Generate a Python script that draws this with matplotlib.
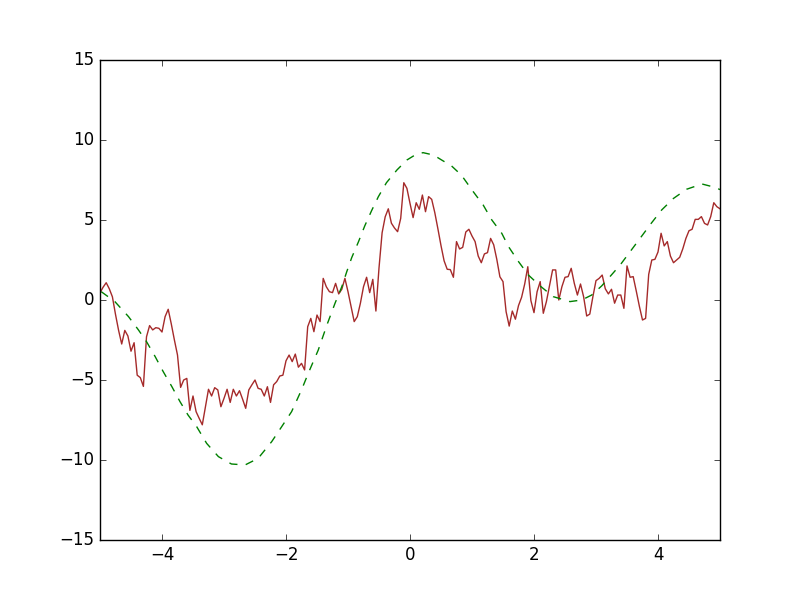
import numpy as np
import matplotlib
matplotlib.use("Agg")
import matplotlib.pyplot as plt

plt.style.use("classic")

noisy_y = [
    0.45, 0.8, 1.08, 0.7, 0.2, -0.9, -1.9, -2.75, -1.9, -2.25,
    -3.2, -2.67, -4.7, -4.85, -5.4, -2.3, -1.6, -1.87, -1.73, -1.77,
    -2.0, -1.04, -0.58, -1.5, -2.5, -3.44, -5.46, -5.0, -4.9, -6.9,
    -6.0, -6.98, -7.4, -7.8, -6.67, -5.58, -6.0, -5.48, -5.62, -6.67,
    -6.15, -5.58, -6.4, -5.58, -6.0, -5.67, -6.2, -6.77, -5.62, -5.3,
    -5.0, -5.52, -5.58, -6.0, -5.42, -6.4, -5.3, -5.1, -4.75, -4.7,
    -3.8, -3.44, -3.85, -3.38, -4.2, -3.96, -4.37, -1.67, -1.15, -1.98,
    -0.94, -1.35, 1.35, 0.83, 0.52, 0.46, 1.04, 0.38, 0.67, 1.35,
    0.52, -0.4, -1.35, -1.04, -0.2, 0.83, 1.42, 0.46, 1.29, -0.69,
    2.0, 4.2, 5.2, 5.7, 4.8, 4.5, 4.27, 5.1, 7.33, 6.98,
    6.04, 5.15, 6.08, 5.67, 6.56, 5.52, 6.46, 6.29, 5.46, 4.45,
    3.4, 2.45, 1.92, 1.9, 1.42, 3.65, 3.19, 3.29, 4.25, 4.42,
    4.0, 3.65, 2.75, 2.33, 2.88, 2.96, 3.85, 3.45, 2.54, 1.45,
    1.15, -0.73, -1.63, -0.69, -1.2, -0.35, 0.17, 1.0, 2.08, -0.04,
    -0.79, 0.52, 1.15, -0.83, -0.1, 0.9, 1.88, 1.88, 0.0, 0.83,
    1.42, 1.46, 1.98, 1.04, 0.31, 1.0, 0.21, -1.0, -0.88, 0.21,
    1.21, 1.35, 1.56, 0.7, 0.38, 0.67, -0.2, 0.31, 0.31, -0.52,
    2.13, 1.42, 1.46, 0.55, -0.4, -1.25, -1.15, 1.6, 2.5, 2.54,
    3.0, 4.17, 3.38, 3.65, 2.75, 2.33, 2.5, 2.67, 3.2, 3.85,
    4.33, 4.42, 5.04, 5.04, 5.21, 4.79, 4.69, 5.21, 6.08, 5.83,
    5.7,
]
noisy_x = np.linspace(-5, 5, len(noisy_y))

smooth_x = [
    -4.98, -4.76, -4.54, -4.38, -4.25, -4.11, -3.98, -3.84, -3.71, -3.58,
    -3.44, -3.28, -3.09, -2.88, -2.66, -2.45, -2.23, -2.07, -1.91, -1.75,
    -1.63, -1.48, -1.34, -1.21, -1.10, -1.02, -0.94, -0.83, -0.73, -0.62,
    -0.51, -0.38, -0.21, -0.05, 0.08, 0.21, 0.38, 0.51, 0.67, 0.83,
    1.02, 1.18, 1.32, 1.48, 1.59, 1.75, 1.91, 2.10, 2.31, 2.58,
    2.77, 2.93, 3.09, 3.20, 3.39, 3.55, 3.71, 3.89, 4.06, 4.25,
    4.46, 4.71, 4.92, 5.0,
]
smooth_y = [
    0.52, -0.1, -1.04, -1.87, -2.6, -3.54, -4.48, -5.42, -6.35, -7.19,
    -7.92, -8.96, -9.79, -10.25, -10.31, -9.9, -8.85, -7.92, -6.98, -5.62,
    -4.48, -3.13, -1.56, -0.21, 0.83, 1.77, 2.65, 3.65, 4.63, 5.58,
    6.46, 7.33, 8.13, 8.75, 9.06, 9.21, 9.06, 8.75, 8.38, 7.8,
    6.77, 5.94, 5.0, 4.17, 3.33, 2.4, 1.56, 0.875, 0.21, -0.1,
    0.0, 0.31, 0.875, 1.35, 2.19, 3.02, 3.85, 4.79, 5.63, 6.35,
    6.92, 7.25, 7.04, 6.9,
]

fig = plt.figure(figsize=(8, 6), dpi=100)
ax = fig.add_subplot(111)
ax.plot(noisy_x, noisy_y, color="brown", linewidth=1)
ax.plot(smooth_x, smooth_y, color="g", linestyle="--", linewidth=1)
ax.set_xlim(-5, 5)
ax.set_ylim(-15, 15)
ax.set_xticks([-4, -2, 0, 2, 4])
ax.set_yticks([-15, -10, -5, 0, 5, 10, 15])
fig.savefig("out.png", dpi=100)
